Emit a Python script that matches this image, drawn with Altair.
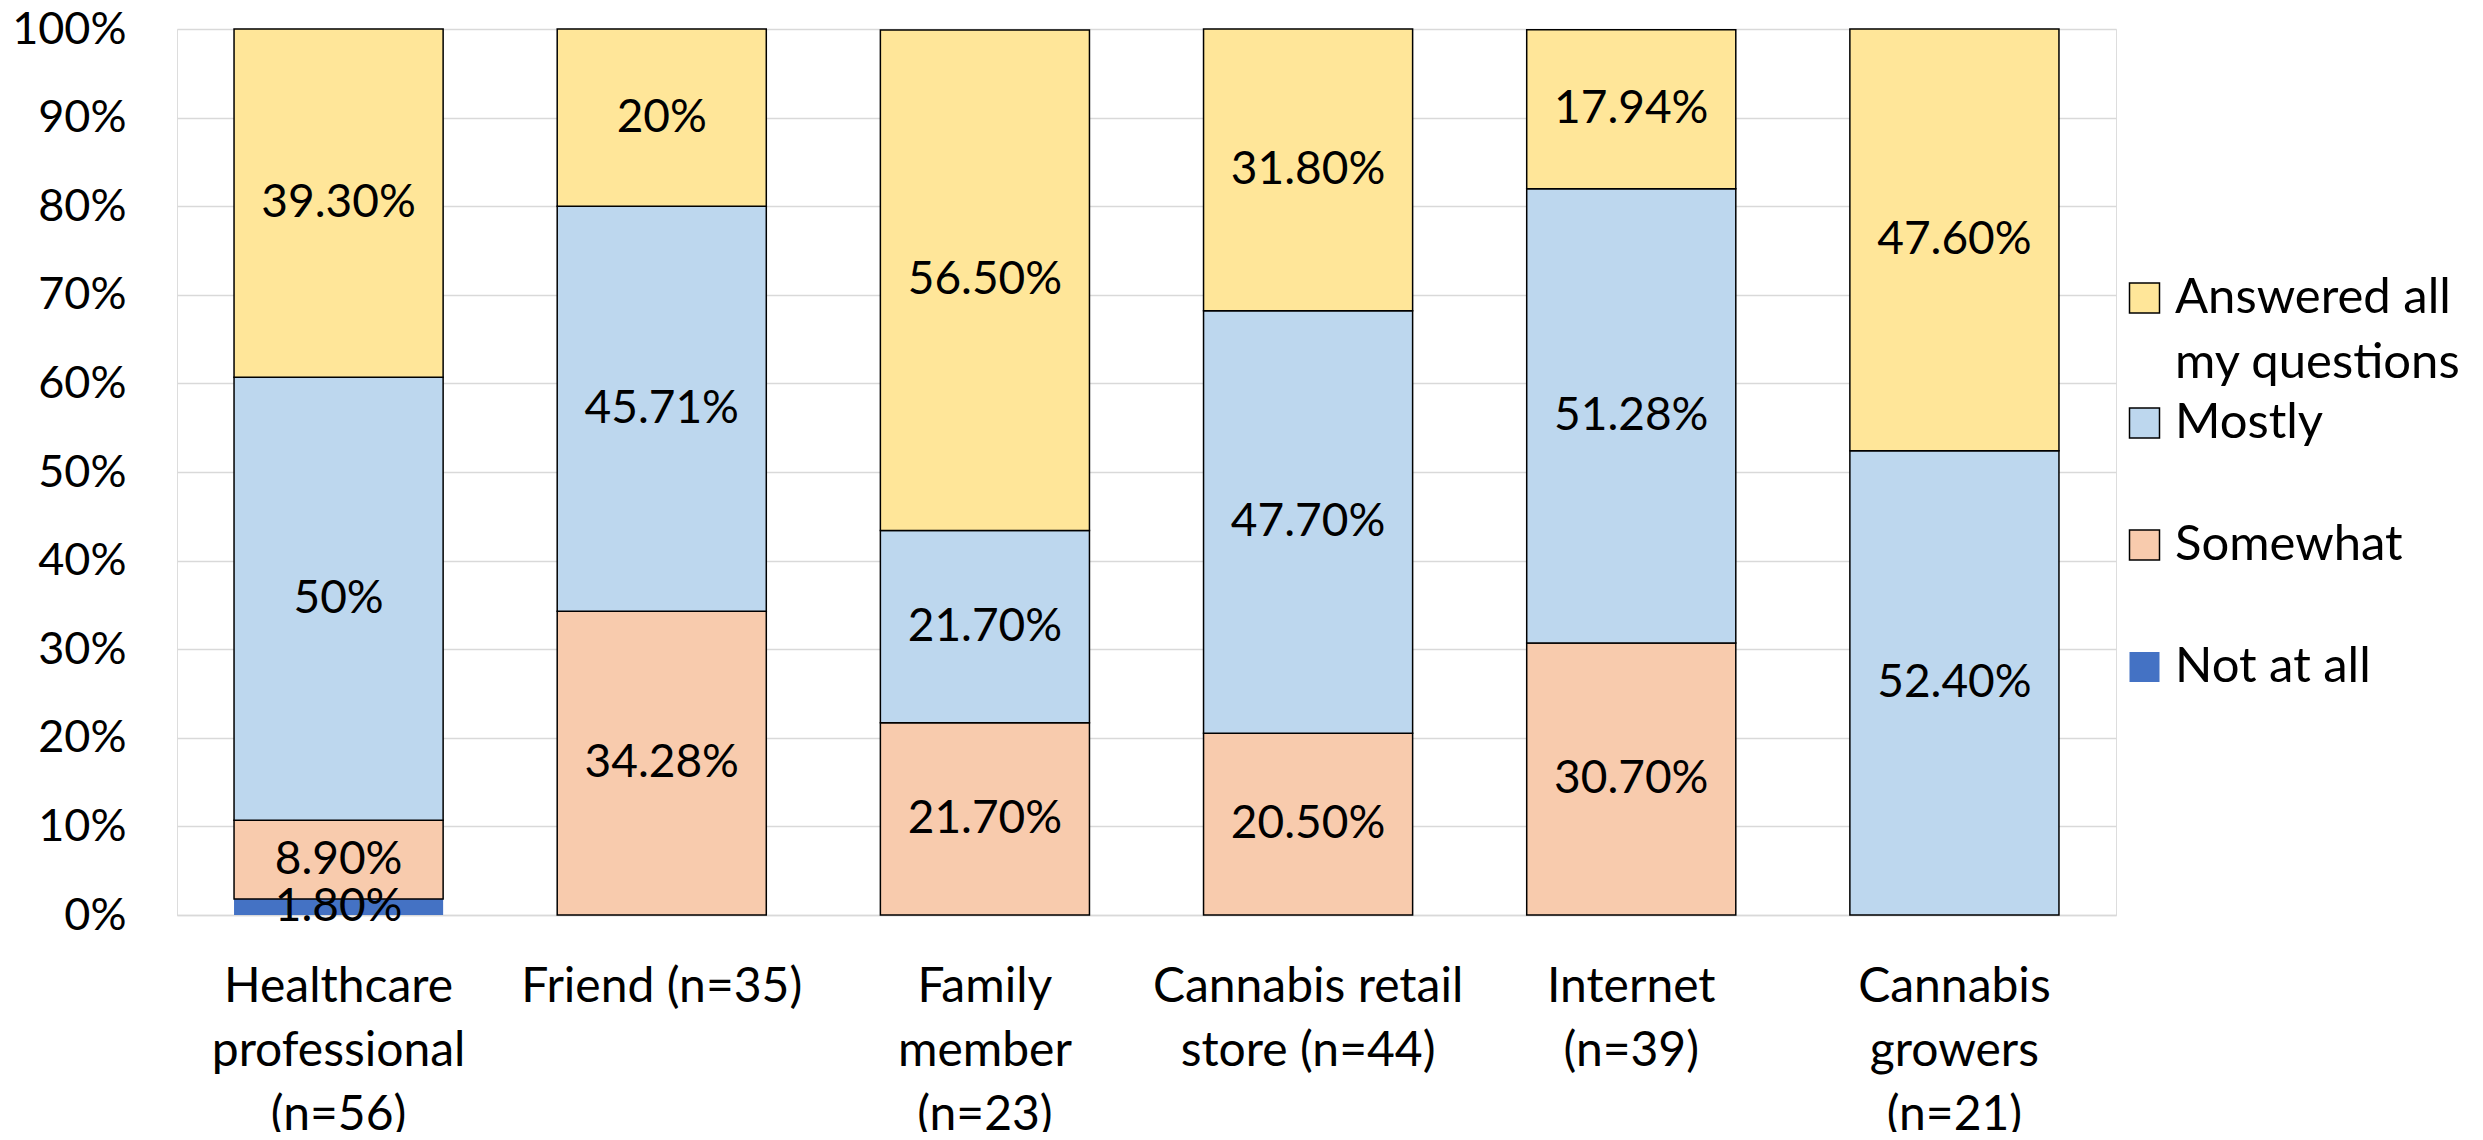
import json
import altair as alt
import pandas as pd

categories = [
    "Healthcare professional (n=56)",
    "Friend (n=35)",
    "Family member (n=23)",
    "Cannabis retail store (n=44)",
    "Internet (n=39)",
    "Cannabis growers (n=21)",
]
category_lines = [
    ["Healthcare", "professional", "(n=56)"],
    ["Friend (n=35)"],
    ["Family", "member", "(n=23)"],
    ["Cannabis retail", "store (n=44)"],
    ["Internet", "(n=39)"],
    ["Cannabis", "growers", "(n=21)"],
]
responses = ["Answered all my questions", "Mostly", "Somewhat", "Not at all"]
colors = ["#FFE699", "#BDD7EE", "#F8CBAD", "#4472C4"]
strokes = ["#000000", "#000000", "#000000", "transparent"]

not_at_all = [1.80, 0, 0, 0, 0, 0]
somewhat = [8.90, 34.28, 21.70, 20.50, 30.70, 0]
mostly = [50.0, 45.71, 21.70, 47.70, 51.28, 52.40]
answered = [39.30, 20.0, 56.50, 31.80, 17.94, 47.60]

not_at_all_labels = ["1.80%", "", "", "", "", ""]
somewhat_labels = ["8.90%", "34.28%", "21.70%", "20.50%", "30.70%", ""]
mostly_labels = ["50%", "45.71%", "21.70%", "47.70%", "51.28%", "52.40%"]
answered_labels = ["39.30%", "20%", "56.50%", "31.80%", "17.94%", "47.60%"]

series = [
    ("Not at all", not_at_all, not_at_all_labels),
    ("Somewhat", somewhat, somewhat_labels),
    ("Mostly", mostly, mostly_labels),
    ("Answered all my questions", answered, answered_labels),
]

rows = []
for order, (name, vals, labs) in enumerate(series):
    for cat, v, lab in zip(categories, vals, labs):
        if v > 0:
            rows.append({"category": cat, "response": name, "order": order,
                         "value": v / 100.0, "label": lab})
df = pd.DataFrame(rows)

label_expr = ""
for cat, lines in zip(categories, category_lines):
    label_expr += f"datum.label == {json.dumps(cat)} ? {json.dumps(lines)} : "
label_expr += "datum.label"

FONT = "Lato"


def make_legend(values, legend_y):
    return alt.Legend(
        title=None,
        orient="none",
        legendX=1943,
        legendY=legend_y,
        values=values,
        symbolType="square",
        symbolSize=900,
        symbolStrokeWidth=1.5,
        labelFont=FONT,
        labelFontSize=49,
        labelColor="#000000",
        labelOffset=6,
        labelLimit=600,
        clipHeight=50,
        rowPadding=72,
        padding=0,
        labelExpr="datum.label == 'Answered all my questions' ? ['Answered all', 'my questions'] : datum.label",
    )


legend_top = make_legend(responses[:1], 244)
legend_rest = make_legend(responses[1:], 369)

base = alt.Chart(df).transform_stack(
    stack="value", groupby=["category"], as_=["v0", "v1"],
    sort=[alt.SortField("order", order="ascending")],
).transform_calculate(mid="(datum.v0 + datum.v1) / 2")

x = alt.X(
    "category:N", sort=categories, title=None,
    scale=alt.Scale(paddingInner=0.353, paddingOuter=0.1765),
    axis=alt.Axis(
        labelAngle=0, labelFont=FONT, labelFontSize=48, labelColor="#000000",
        labelExpr=label_expr, labelLineHeight=64, labelBaseline="top",
        labelPadding=48, ticks=False, tickSize=0, domain=True,
        domainColor="#D9D9D9", domainWidth=1.5, labelLimit=600,
    ),
)

y = alt.Y(
    "v0:Q", title=None,
    scale=alt.Scale(domain=[0, 1], nice=False),
    axis=alt.Axis(
        values=[i / 10 for i in range(11)], format=".0%",
        labelFont=FONT, labelFontSize=45, labelColor="#000000",
        labelPadding=51, ticks=False, tickSize=0, domain=False,
        grid=True, gridColor="#D9D9D9", gridWidth=1.5,
    ),
)

fill_scale = alt.Scale(domain=responses, range=colors)
stroke_scale = alt.Scale(domain=responses, range=strokes)

bars = base.mark_bar(strokeWidth=1.5).encode(
    x=x,
    y=y,
    y2="v1:Q",
    fill=alt.Fill("response:N", scale=fill_scale, legend=legend_top),
    stroke=alt.Stroke("response:N", scale=stroke_scale, legend=legend_top),
)

# second legend block (same scales) for the remaining entries; draws no bars
legend_layer = base.transform_filter("false").mark_bar(strokeWidth=1.5).encode(
    x=alt.X("category:N", sort=categories),
    y=alt.Y("v0:Q"),
    y2="v1:Q",
    fill=alt.Fill("response:N", scale=fill_scale, legend=legend_rest),
    stroke=alt.Stroke("response:N", scale=stroke_scale, legend=legend_rest),
)

texts = base.mark_text(font=FONT, fontSize=46, color="#000000", baseline="middle").encode(
    x=alt.X("category:N", sort=categories),
    y=alt.Y("mid:Q"),
    text="label:N",
)

chart = alt.layer(bars, legend_layer, texts).resolve_scale(
    fill="independent", stroke="independent"
).resolve_legend(
    fill="independent", stroke="independent"
).properties(
    width=1939, height=886,
    autosize=alt.AutoSizeParams(type="none"),
    padding={"left": 169, "top": 21, "right": 359, "bottom": 217},
).configure_view(stroke=None).configure(
    background="white",
    style={"guide-label": {"lineHeight": 65}},
)

chart.save("out.html", embed_options={"renderer": "svg", "actions": False})
